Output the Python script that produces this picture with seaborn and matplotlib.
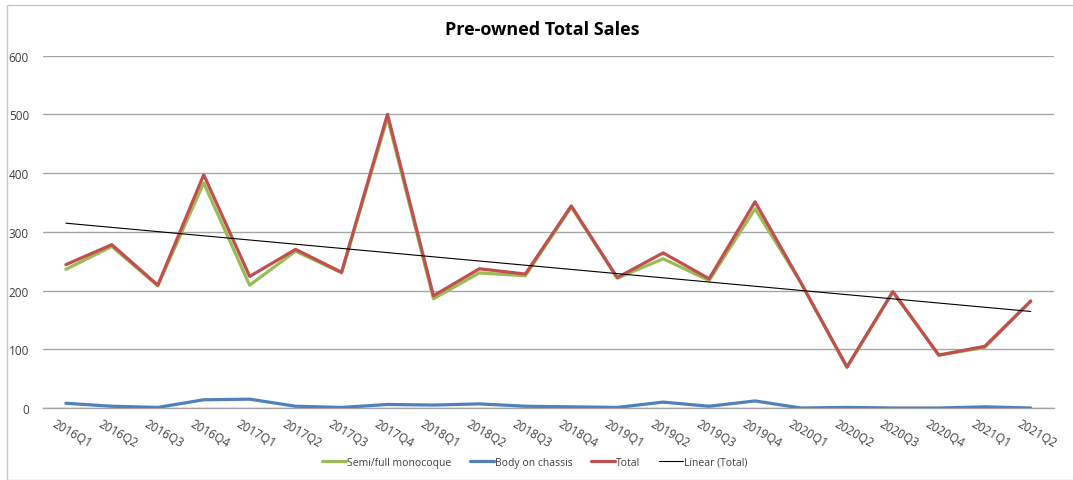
import numpy as np
import pandas as pd
import matplotlib
matplotlib.use("Agg")
import matplotlib.pyplot as plt
import matplotlib.transforms as mtrans
import seaborn as sns
from matplotlib.lines import Line2D
from matplotlib.patches import Rectangle

quarters = ["2016Q1", "2016Q2", "2016Q3", "2016Q4", "2017Q1", "2017Q2", "2017Q3", "2017Q4",
            "2018Q1", "2018Q2", "2018Q3", "2018Q4", "2019Q1", "2019Q2", "2019Q3", "2019Q4",
            "2020Q1", "2020Q2", "2020Q3", "2020Q4", "2021Q1", "2021Q2"]
semi_full = [236, 275, 208, 383, 209, 267, 230, 494, 186, 230, 225, 342,
             221, 254, 217, 339, 213, 69, 198, 90, 103, 182]
body_on_chassis = [8, 3, 1, 14, 15, 3, 1, 6, 5, 7, 3, 2,
                   1, 10, 3, 12, 0, 1, 0, 0, 2, 0]
total = [244, 278, 209, 397, 224, 270, 231, 500, 191, 237, 228, 344,
         222, 264, 220, 351, 213, 70, 198, 90, 105, 182]
y_ticks = [0, 100, 200, 300, 400, 500, 600]

sns.set_theme(style="white")
plt.rcParams['font.family'] = ['Open Sans', 'DejaVu Sans']

fig = plt.figure(figsize=(10.73, 4.81), dpi=100)
ax = fig.add_axes([0.040, 0.1497, 0.942, 0.7328])

x = np.arange(len(quarters))
df = pd.DataFrame({
    "x": np.concatenate([x, x, x]),
    "value": semi_full + body_on_chassis + total,
    "series": ["Semi/full monocoque"] * len(x) + ["Body on chassis"] * len(x) + ["Total"] * len(x),
})
palette = {"Semi/full monocoque": "#9BBB59", "Body on chassis": "#4F81BD", "Total": "#C0504D"}

for name in ["Semi/full monocoque", "Body on chassis", "Total"]:
    sub = df[df["series"] == name]
    sns.lineplot(data=sub, x="x", y="value", ax=ax, color=palette[name], linewidth=2.3,
                 sort=False, legend=False, zorder=3)

coef = np.polyfit(x, total, 1)
sns.lineplot(x=x, y=np.polyval(coef, x), ax=ax, color="black", linewidth=0.8, legend=False, zorder=4)

ax.set_xlim(-0.5, len(quarters) - 0.5)
ax.set_ylim(0, 600)
ax.set_yticks(y_ticks)
ax.set_yticklabels([str(v) for v in y_ticks], fontsize=8.5, color="#404040")
ax.yaxis.grid(True, color="#A6A6A6", linewidth=1.0)
ax.set_axisbelow(True)
for s in ["left", "right", "top"]:
    ax.spines[s].set_visible(False)
ax.spines["bottom"].set_color("#A6A6A6")
ax.spines["bottom"].set_linewidth(1.0)
ax.tick_params(axis="y", length=0, pad=10)
ax.tick_params(axis="x", length=0, pad=6)
ax.set_xticks(x)
ax.set_xticklabels(quarters, rotation=-30, ha="left", va="top", rotation_mode="anchor",
                   fontsize=8.5, color="#404040")
offset = mtrans.ScaledTranslation(-9 / 100, 0, fig.dpi_scale_trans)
for lbl in ax.get_xticklabels():
    lbl.set_transform(lbl.get_transform() + offset)
ax.set_xlabel("")
ax.set_ylabel("")

fig.text(0.505, 0.938, "Pre-owned Total Sales", ha="center", va="center",
         fontsize=13, fontweight="bold", color="black")

handles = [
    Line2D([0], [0], color="#9BBB59", linewidth=2.3),
    Line2D([0], [0], color="#4F81BD", linewidth=2.3),
    Line2D([0], [0], color="#C0504D", linewidth=2.3),
    Line2D([0], [0], color="black", linewidth=0.8),
]
labels = ["Semi/full monocoque", "Body on chassis", "Total", "Linear (Total)"]
fig.legend(handles, labels, loc="center", bbox_to_anchor=(534.5 / 1073, 0.037), ncol=4, frameon=False,
           fontsize=7.5, handlelength=2.3, handletextpad=0.1, columnspacing=1.8,
           labelcolor="#404040", borderpad=0)

fig.patches.append(Rectangle((7 / 1073, 0), 1.2, (481 - 6) / 481, transform=fig.transFigure,
                             fill=False, edgecolor="#C8C8C8", linewidth=1.0))

fig.savefig("out.png", dpi=100)
